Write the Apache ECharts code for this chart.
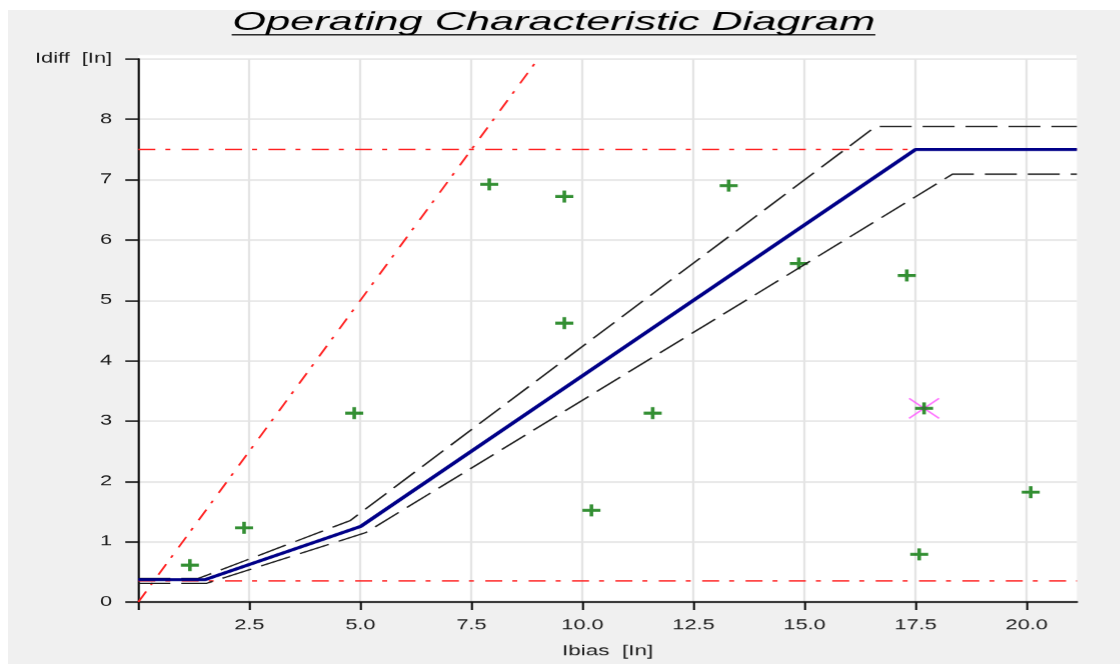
<!DOCTYPE html>
<html>
<head>
<meta charset="utf-8">
<title>Operating Characteristic Diagram</title>
<script src="https://cdn.jsdelivr.net/npm/echarts@6/dist/echarts.min.js"></script>
<style>
  html, body { margin: 0; padding: 0; background: #f0f0f0; overflow: hidden; }
  /* the reference picture is stretched 1.5x in width, so the chart is drawn narrow and stretched */
  #chart { width: 746.667px; height: 664px; transform: scaleX(1.5); transform-origin: 0 0; }
</style>
</head>
<body>
<div id="chart"></div>
<script>
// axis ticks
var xTicks = [0, 2.5, 5, 7.5, 10, 12.5, 15, 17.5, 20];
var xLabels = [2.5, 5, 7.5, 10, 12.5, 15, 17.5, 20];
var yTicks = [0, 1, 2, 3, 4, 5, 6, 7, 8, 9];
var xMax = 21.13;
var yMax = 9;

// operating characteristic (Idiff over Ibias)
var curveX = [0, 1.5, 5, 17.5, 21.13];
var curveY = [0.37, 0.37, 1.25, 7.5, 7.5];
// tolerance band
var upperX = [0, 1.35, 4.77, 16.6, 21.13];
var upperY = [0.39, 0.39, 1.35, 7.88, 7.88];
var lowerX = [0, 1.54, 5.12, 18.33, 21.13];
var lowerY = [0.31, 0.31, 1.15, 7.09, 7.09];
// limit lines
var limitLowY = [0.35, 0.35];
var limitHighY = [7.5, 7.5];
var limitX = [0, 21.13];
var slopeX = [0, 10];
var slopeY = [0, 10];

// test points
var pointX = [1.16, 2.38, 4.86, 7.9, 9.59, 9.59, 10.2, 11.58, 13.29, 14.87, 17.3, 17.69, 17.58, 20.09];
var pointY = [0.61, 1.23, 3.13, 6.92, 6.72, 4.62, 1.52, 3.13, 6.9, 5.61, 5.41, 3.21, 0.79, 1.82];
// marked (selected) point
var markX = [17.69];
var markY = [3.21];

init();

function init() {
    var chart = echarts.init(document.getElementById('chart'), null, { devicePixelRatio: 1.5 });
    chart.setOption(buildOption());
}

function pairs(xs, ys) {
    return xs.map(function (x, i) { return [x, ys[i]]; });
}

function lineSeries(xs, ys, color, width, type) {
    return {
        type: 'line',
        data: pairs(xs, ys),
        symbol: 'none',
        silent: true,
        clip: true,
        lineStyle: { color: color, width: width, type: type }
    };
}

function buildOption() {
    var labelColor = '#1c1c1c';
    return {
        backgroundColor: '#f0f0f0',
        animation: false,
        graphic: [
            // white border strips of the screenshot
            { type: 'rect', z: -10, shape: { x: 0, y: 0, width: 746.667, height: 10 }, style: { fill: '#fff' } },
            { type: 'rect', z: -10, shape: { x: 0, y: 0, width: 5.3, height: 664 }, style: { fill: '#fff' } },
            { type: 'rect', z: -10, shape: { x: 92.2, y: 55, width: 625.1, height: 5 }, style: { fill: '#fff' } },
            // title, underlined italic
            {
                type: 'text', x: 369, y: 10, scaleX: 1.11,
                style: {
                    text: 'Operating Characteristic Diagram',
                    align: 'center', verticalAlign: 'top',
                    font: 'italic 26px "Liberation Sans"', fill: '#000'
                }
            },
            { type: 'line', shape: { x1: 154.4, y1: 34.8, x2: 583.3, y2: 34.8 }, style: { stroke: '#000', lineWidth: 1.4 } }
        ],
        grid: {
            left: 92.2, right: 29.4, top: 58.9, bottom: 61.3,
            show: true, backgroundColor: '#fff', borderWidth: 0
        },
        xAxis: {
            type: 'value',
            min: 0, max: xMax, interval: 2.5,
            name: 'Ibias  [In]',
            nameLocation: 'middle',
            nameGap: 42,
            nameTextStyle: { color: labelColor, fontSize: 15, fontFamily: 'Liberation Sans' },
            axisLine: { show: true, onZero: false, lineStyle: { color: '#111', width: 1.6 } },
            axisTick: { show: true, length: 8, customValues: xTicks, lineStyle: { color: '#111', width: 1.4 } },
            axisLabel: {
                customValues: xLabels,
                margin: 16,
                color: labelColor, fontSize: 14.5, fontFamily: 'Liberation Sans',
                formatter: function (v) { return v.toFixed(1); }
            },
            splitLine: { show: true, lineStyle: { color: '#e4e4e4', width: 1.5 } }
        },
        yAxis: {
            type: 'value',
            min: 0, max: yMax, interval: 1,
            axisLine: { show: true, onZero: false, lineStyle: { color: '#111', width: 1.4 } },
            axisTick: { show: true, length: 8.7, customValues: yTicks, lineStyle: { color: '#111', width: 1.5 } },
            axisLabel: {
                margin: 17.5,
                color: labelColor, fontSize: 14.5, fontFamily: 'Liberation Sans',
                formatter: function (v) { return v === yMax ? 'Idiff  [In]' : String(v); }
            },
            splitLine: { show: true, lineStyle: { color: '#e4e4e4', width: 1.5 } }
        },
        series: [
            lineSeries(limitX, limitLowY, '#ff2020', 1.5, [11.3, 6.7, 3.3, 7.6]),
            lineSeries(limitX, limitHighY, '#ff2020', 1.5, [11.3, 6.7, 3.3, 7.6]),
            lineSeries(slopeX, slopeY, '#ff2020', 1.4, [11.7, 7.2, 2.7, 8.8]),
            lineSeries(upperX, upperY, '#1a1a1a', 1.3, [21.3, 7.3]),
            lineSeries(lowerX, lowerY, '#1a1a1a', 1.3, [21.3, 7.3]),
            lineSeries(curveX, curveY, '#000088', 3, 'solid'),
            {
                type: 'scatter',
                data: pairs(markX, markY),
                symbol: 'path://M0,0L20,20M0,20L20,0',
                symbolSize: 20,
                silent: true,
                itemStyle: { color: 'none', borderColor: '#ff4dff', borderWidth: 1.3 }
            },
            {
                type: 'scatter',
                data: pairs(pointX, pointY),
                symbol: 'path://M0,4.5H12V7.5H0Z M4.8,0H7.2V12H4.8Z',
                symbolSize: 12,
                silent: true,
                itemStyle: { color: '#007300' }
            }
        ]
    };
}
</script>
</body>
</html>
